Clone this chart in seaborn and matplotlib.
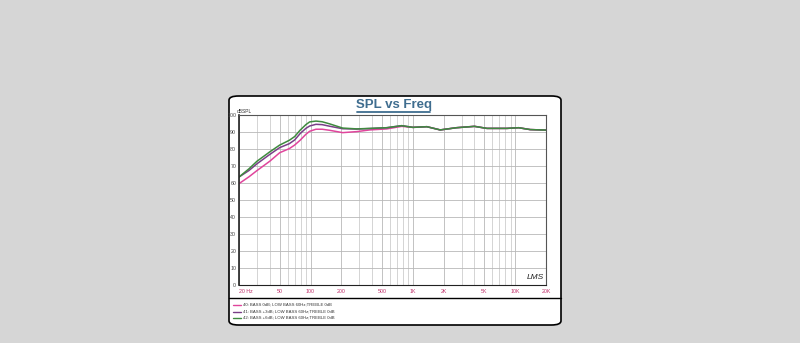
import numpy as np
import pandas as pd
import matplotlib
matplotlib.use("Agg")
import matplotlib.pyplot as plt
import seaborn as sns
from matplotlib.patches import FancyBboxPatch
from matplotlib.lines import Line2D
from matplotlib.ticker import FixedLocator, NullFormatter

freq = [20, 25, 30, 40, 50, 62, 70, 79, 90, 98, 113, 130, 153, 206, 283, 380, 556,
        778, 1000, 1370, 1850, 2670, 4000, 5300, 8300, 10800, 14000, 20000]
spl_40 = [59.8, 63.8, 67.5, 73, 78, 80.4, 82.5, 85.3, 88.8, 90.6, 91.8, 91.8, 91.2,
          89.8, 90.4, 91.4, 92, 93.5, 92.9, 93.3, 91.4, 92.7, 93.5, 92.3, 92.3, 92.7,
          91.6, 91.3]
spl_41 = [63.7, 67.5, 71.5, 77, 81, 83.3, 85.5, 89.2, 92.3, 93.7, 94.7, 94.5, 93.6,
          92.1, 91.9, 92.2, 92.7, 93.9, 92.9, 93.3, 91.4, 92.7, 93.5, 92.3, 92.3, 92.7,
          91.6, 91.3]
spl_42 = [63.7, 68.5, 73, 78.5, 82.5, 85.3, 87.5, 91.2, 94.5, 96.1, 96.6, 96.2, 95,
          92.5, 92, 92.3, 92.7, 93.9, 92.9, 93.3, 91.4, 92.7, 93.5, 92.3, 92.3, 92.7,
          91.6, 91.3]
labels = ["40: BASS 0dB; LOW BASS 60Hz;TREBLE 0dB",
          "41: BASS +3dB; LOW BASS 60Hz;TREBLE 0dB",
          "42: BASS +6dB; LOW BASS 60Hz;TREBLE 0dB"]
colors = ["#e0459c", "#7a3f88", "#3f8a3f"]
xticks = [20, 50, 100, 200, 500, 1000, 2000, 5000, 10000, 20000]
xticklabels = ["20 Hz", "50", "100", "200", "500", "1K", "2K", "5K", "10K", "20K"]
yticks = [0, 10, 20, 30, 40, 50, 60, 70, 80, 90, 100]

df = pd.concat([
    pd.DataFrame({"freq": freq, "spl": s, "series": lab})
    for s, lab in zip([spl_40, spl_41, spl_42], labels)
])

sns.set_style("white")
plt.rcParams['font.family'] = ['Liberation Sans', 'DejaVu Sans']

fig = plt.figure(figsize=(8, 3.43), dpi=100)
fig.patch.set_facecolor("#d6d6d6")

W, H = 800, 343
def fx(px):
    return px / W
def fy(py):
    return 1 - py / H

panel = FancyBboxPatch((fx(229), fy(325)), fx(561) - fx(229), fy(96) - fy(325),
                       boxstyle="round,pad=0,rounding_size=0.012",
                       transform=fig.transFigure, facecolor="white",
                       edgecolor="black", linewidth=1.2, zorder=-5)
fig.patches.append(panel)
fig.lines.append(Line2D([fx(229), fx(561)], [fy(298), fy(298)],
                        transform=fig.transFigure, color="black", lw=1.0, zorder=2))

fig.text(fx(393.5), fy(104.5), "SPL vs Freq", ha="center", va="center",
         fontsize=9.5, fontweight="bold", color="#3f6d8f")
fig.lines.append(Line2D([fx(357), fx(430)], [fy(112), fy(112)],
                        transform=fig.transFigure, color="#3f6d8f", lw=1.3, zorder=2))

ax = fig.add_axes([fx(239), fy(285.3), fx(546) - fx(239), fy(115.3) - fy(285.3)])
ax.set_facecolor("white")
sns.lineplot(data=df, x="freq", y="spl", hue="series", palette=colors,
             ax=ax, lw=1.1, legend=False)
ax.set_xscale("log")
ax.set_xlim(20, 20000)
ax.set_ylim(0, 100)
ax.set_xticks(xticks)
ax.set_xticklabels(xticklabels)
ax.get_xticklabels()[0].set_horizontalalignment("left")
minor = [m * 10 ** d for d in range(1, 5) for m in range(2, 10)]
minor = [v for v in minor if 20 <= v <= 20000 and v not in xticks]
ax.xaxis.set_minor_locator(FixedLocator(minor))
ax.xaxis.set_minor_formatter(NullFormatter())
ax.set_yticks(yticks)
ax.set_axisbelow(True)
ax.grid(True, which="major", color="#b8b8b8", lw=0.6)
ax.grid(True, which="minor", axis="x", color="#c4c4c4", lw=0.5)
ax.tick_params(axis="x", which="both", colors="#c0306a", labelsize=3.8, length=0, pad=3)
ax.tick_params(axis="y", colors="#444444", labelsize=3.8, length=0, pad=2)
ax.set_xlabel("")
ax.set_ylabel("")
for sp in ax.spines.values():
    sp.set_color("#555555")
    sp.set_linewidth(0.8)
ax.spines["left"].set_color("#222222")
ax.spines["left"].set_linewidth(1.2)
ax.spines["bottom"].set_color("#222222")

fig.text(fx(237), fy(111), "dBSPL", fontsize=3.5, color="#333333", ha="left", va="center")
ax.text(0.965, 0.045, "LMS", transform=ax.transAxes, fontsize=6, style="italic",
        color="#222222", ha="center", va="center")

for i, (lab, c) in enumerate(zip(labels, colors)):
    y = 305 + i * 6.5
    fig.lines.append(Line2D([fx(233), fx(241)], [fy(y), fy(y)],
                            transform=fig.transFigure, color=c, lw=1.0, zorder=2))
    fig.text(fx(243), fy(y), lab, fontsize=3.1, color="#333333", ha="left", va="center")

fig.savefig("out.png", dpi=100, facecolor=fig.get_facecolor())
